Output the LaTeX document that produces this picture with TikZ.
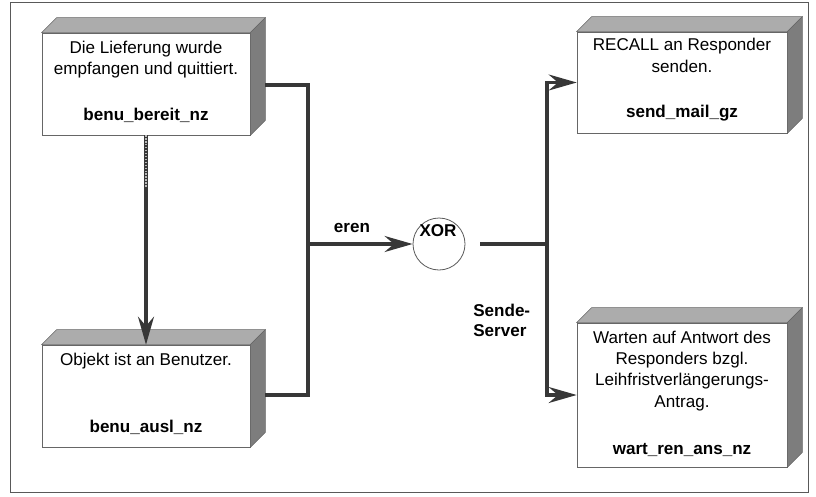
\documentclass[tikz,border=0pt]{standalone}
\usepackage{fontspec}
\setmainfont{Liberation Sans}
\usepackage{tikz}
\usetikzlibrary{arrows.meta,calc,positioning}
\definecolor{lineg}{RGB}{55,55,55}
\definecolor{topg}{RGB}{172,172,172}
\definecolor{sideg}{RGB}{125,125,125}

\begin{document}
\begin{tikzpicture}[x=0.75pt,y=-0.75pt,
  front/.style={draw=gray!80!black, line width=0.5pt, fill=white, minimum width=156pt, minimum height=76.5pt, inner sep=0pt},
  desc/.style={font=\fontsize{12.8}{16}\selectfont, align=center, inner sep=0pt},
  ident/.style={font=\fontsize{12.8}{15}\selectfont\bfseries, inner sep=0pt},
  lbl/.style={font=\fontsize{12.8}{15}\selectfont\bfseries, inner sep=0pt},
  conn/.style={draw=lineg, line width=2.4pt},
  tip/.style={-{Stealth[length=21pt,width=12pt,inset=7pt]}}]
\useasboundingbox (0,0) rectangle (816,496);
% frame
\draw[gray!70!black, line width=0.6pt] (10,2) rectangle (808,492);
% boxes
\node[front] (b1) at (146,84) {};
\node[front] (b2) at (146,396) {};
\node[front, minimum width=157.5pt, minimum height=75.75pt] (b3) at (682,82.5) {};
\node[front, minimum width=157.5pt, minimum height=108pt] (b4) at (682,395) {};
\foreach \b in {b1,b2,b3,b4}{
  \filldraw[fill=topg, draw=gray!80!black, line width=0.4pt] (\b.north west) -- ++(15,-15) -- ($(\b.north east)+(15,-15)$) -- (\b.north east) -- cycle;
  \filldraw[fill=sideg, draw=gray!80!black, line width=0.4pt] (\b.north east) -- ++(15,-15) -- ($(\b.south east)+(15,-15)$) -- (\b.south east) -- cycle;
}
% box texts
\node[desc, below=6pt of b1.north] (b1d) {Die Lieferung wurde\\empfangen und quittiert.};
\node[ident, above=9pt of b1.south] (b1n) {benu\_bereit\_nz};
\node[desc, below=6pt of b2.north] (b2d) {Objekt ist an Benutzer.};
\node[ident, above=9pt of b2.south] (b2n) {benu\_ausl\_nz};
\node[desc, below=5pt of b3.north] (b3d) {RECALL an Responder\\senden.};
\node[ident, above=9pt of b3.south] (b3n) {send\_mail\_gz};
\node[desc, below=6pt of b4.north] (b4d) {Warten auf Antwort des\\Responders bzgl.\\Leihfristverlängerungs-\\Antrag.};
\node[ident, above=8pt of b4.south] (b4n) {wart\_ren\_ans\_nz};
% xor
\node[circle, draw=gray!70!black, line width=0.6pt, minimum size=39pt, inner sep=0pt] (xor) at (439,244) {};
\node[lbl] (xort) at (438,231) {XOR};
% junctions
\coordinate (jl) at (308,244);
\coordinate (jr) at (547,244);
\coordinate (b1r) at ($(b1.east)+(15,1)$);
\coordinate (b2r) at ($(b2.east)+(15,-1)$);
% connectors
\draw[conn] (b1r) -| (jl) |- (b2r);
\draw[conn, tip] (jl) -- (xor.west);
\draw[conn] ($(xor.east)+(15,0)$) -- (jr);
\draw[conn, tip] (jr) |- (b3.west);
\draw[conn, tip] (jr) |- (b4.west);
\draw[conn, tip] (b1.south) -- (b2.north);
\draw[gray!55, line width=0.9pt, dash pattern=on 1pt off 1.2pt] (b1.south) -- ++(0,52);
% labels
\node[lbl] (eren) at (352,228) {eren};
\node[lbl, align=left, anchor=west] (sende) at (473,320) {Sende-\\Server};
\end{tikzpicture}
\end{document}
